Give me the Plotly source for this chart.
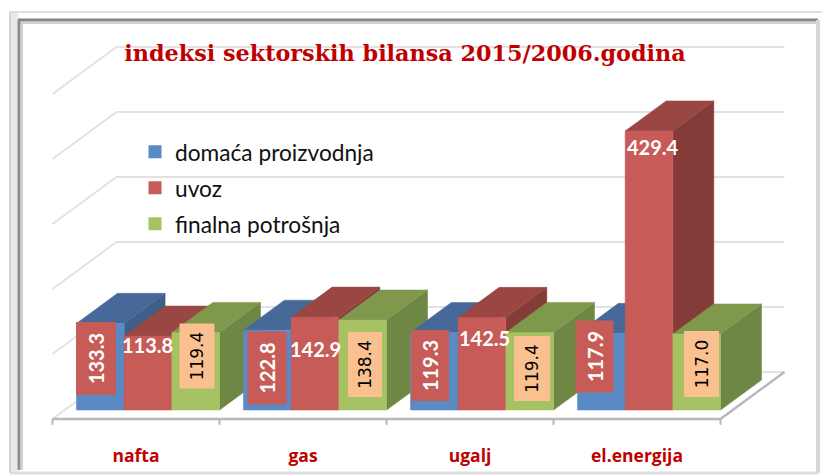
import plotly.graph_objects as go

categories = ["nafta", "gas", "ugalj", "el.energija"]
series_names = ["domaća proizvodnja", "uvoz", "finalna potrošnja"]
domaca = [133.3, 122.8, 119.3, 117.9]
uvoz = [113.8, 142.9, 142.5, 429.4]
finalna = [119.4, 138.4, 119.4, 117.0]
grid_values = [0, 100, 200, 300, 400, 500]
title_text = "indeksi sektorskih bilansa 2015/2006.godina"

W, H = 822, 475
PLOT_B = 441
PX_U, PX_V = 167.0, 0.65      # px per category, px per unit
X0, Y0 = 52.5, 419.0          # pixel of the front-left floor corner
DX, DY = 64.0, 47.0           # pixel shift of full depth

FRONT = ["#5A8AC4", "#C65B57", "#A6C263"]
TOP = ["#47699A", "#9A4743", "#7F984C"]
SIDE = ["#3F5F8A", "#843C39", "#6F8744"]
GRID = "#E2E2E2"
AXIS = "#B8B8B8"

BAR_W = 47.7 / PX_U
D0, D1 = 0.19, 0.83


def proj(u, v, d):
    """category pos, value, depth -> sheared axis coordinates"""
    return (u + d * DX / PX_U, v + d * DY / PX_V)


def inv_px(px, py):
    return ((px - X0) / PX_U, (Y0 - py) / PX_V)


fig = go.Figure()


def poly(points, color):
    pts = [proj(*p) for p in points]
    pts.append(pts[0])
    fig.add_trace(go.Scatter(
        x=[p[0] for p in pts], y=[p[1] for p in pts], mode="lines",
        fill="toself", fillcolor=color, line=dict(color=color, width=0.5),
        hoverinfo="skip", showlegend=False))


def line(points, color, width):
    pts = [proj(*p) for p in points]
    fig.add_trace(go.Scatter(
        x=[p[0] for p in pts], y=[p[1] for p in pts], mode="lines",
        line=dict(color=color, width=width), hoverinfo="skip", showlegend=False))


n = len(categories)
for g in grid_values:
    line([(0, g, 0), (0, g, 1), (n, g, 1)], GRID, 2)
line([(0, 0, 0), (n, 0, 0), (n, 0, 1)], AXIS, 2.5)
for i in range(n + 1):
    line([(i, 0, 0), (i, -9, 0)], AXIS, 2)

values = [domaca, uvoz, finalna]
for c in range(n):
    for s in range(3):
        v = values[s][c]
        a = c + 11.8 / PX_U + s * BAR_W
        b = a + BAR_W
        poly([(b, 0, D0), (b, 0, D1), (b, v, D1), (b, v, D0)], SIDE[s])
        poly([(a, v, D0), (b, v, D0), (b, v, D1), (a, v, D1)], TOP[s])
        poly([(a, 0, D0), (b, 0, D0), (b, v, D0), (a, v, D0)], FRONT[s])

for s in range(3):
    fig.add_trace(go.Scatter(
        x=[None], y=[None], mode="markers", name=series_names[s],
        legendgroup=series_names[s],
        marker=dict(symbol="square", size=13, color=FRONT[s])))

# label placement in pixels: centre x, centre y, long side, short side
BOX = {
    (0, 0): (95.5, 359, 72, 39), (0, 2): (197, 356, 64, 34),
    (1, 0): (267, 368, 72, 38), (1, 2): (364.5, 365, 64, 33),
    (2, 0): (429.5, 366, 70, 37), (2, 2): (531.5, 369, 64, 35),
    (3, 0): (594.5, 356.5, 71, 37), (3, 2): (701, 364.5, 65, 34),
}
PLAIN = {(0, 1): (147, 345), (1, 1): (315, 349), (2, 1): (484, 338), (3, 1): (653, 147)}

ann = []
for (c, s), (px, py, lng, sht) in BOX.items():
    x, y = inv_px(px, py)
    red = s == 0
    ann.append(dict(
        x=x, y=y, xref="x", yref="y", text=f"{values[s][c]:.1f}", showarrow=False,
        textangle=-90, width=lng, height=sht, align="center", valign="middle",
        bgcolor="#C65B57" if red else "#FAC090", borderpad=0,
        font=dict(family="Lato" if red else "DejaVu Sans", size=20 if red else 17,
                  color="white" if red else "black", weight="bold" if red else "normal")))
for (c, s), (px, py) in PLAIN.items():
    x, y = inv_px(px, py)
    ann.append(dict(x=x, y=y, xref="x", yref="y", text=f"{values[s][c]:.1f}", showarrow=False,
                    font=dict(family="Lato", size=20, color="white", weight="bold")))


def pap_x(px):
    return px / W


def pap_y(py):
    return (PLOT_B - py) / PLOT_B


def frame(x0, y0, x1, y1, color, width):
    return dict(type="line", xref="paper", yref="paper", x0=pap_x(x0), x1=pap_x(x1),
                y0=pap_y(y0), y1=pap_y(y1), line=dict(color=color, width=width), layer="below")


shapes = [
    dict(type="rect", xref="paper", yref="paper", x0=pap_x(10), x1=pap_x(18), y0=pap_y(473),
         y1=pap_y(12), fillcolor="#E9E9E9", line_width=0, layer="below"),
    frame(9, 12, 822, 12, "#D4D4D4", 1.5),
    frame(10, 12, 10, 473, "#D4D4D4", 2),
    frame(18, 20, 818, 20, "#858585", 3),
    frame(18, 23, 818, 23, "#D0D0D0", 2),
    frame(19, 20, 19, 470, "#8E8E8E", 3),
    frame(22, 22, 22, 470, "#D0D0D0", 2),
    frame(818, 20, 818, 473, "#D6D6D6", 4),
    frame(10, 473, 818, 473, "#DDDDDD", 3),
]

fig.update_layout(
    width=W, height=H, autosize=False,
    margin=dict(l=0, r=0, t=0, b=H - PLOT_B, pad=0),
    paper_bgcolor="white", plot_bgcolor="rgba(0,0,0,0)",
    title=dict(text=title_text, x=405 / W, xanchor="center", y=1 - 53 / H, yanchor="middle",
               font=dict(family="DejaVu Serif", size=22.3, color="#C00000", weight="bold")),
    xaxis=dict(range=[-X0 / PX_U, (W - X0) / PX_U], showgrid=False, zeroline=False, showline=False,
               ticks="", tickmode="array", tickvals=[i + 0.5 for i in range(n)], ticktext=categories,
               ticklabelstandoff=2,
               tickfont=dict(family="Open Sans", size=17.5, color="#C00000", weight="bold"),
               fixedrange=True),
    yaxis=dict(range=[(Y0 - PLOT_B) / PX_V, Y0 / PX_V], showgrid=False, zeroline=False, showline=False,
               showticklabels=False, ticks="", fixedrange=True),
    legend=dict(x=135 / W, xanchor="left", y=pap_y(130.5), yanchor="top", bgcolor="rgba(0,0,0,0)",
                tracegroupgap=3.5, font=dict(family="Lato", size=22.7, color="#111111")),
    annotations=ann, shapes=shapes,
)

fig.write_html("out.html", config={"displayModeBar": False},
               post_script="document.body.style.margin='0';document.body.style.overflow='hidden';")
